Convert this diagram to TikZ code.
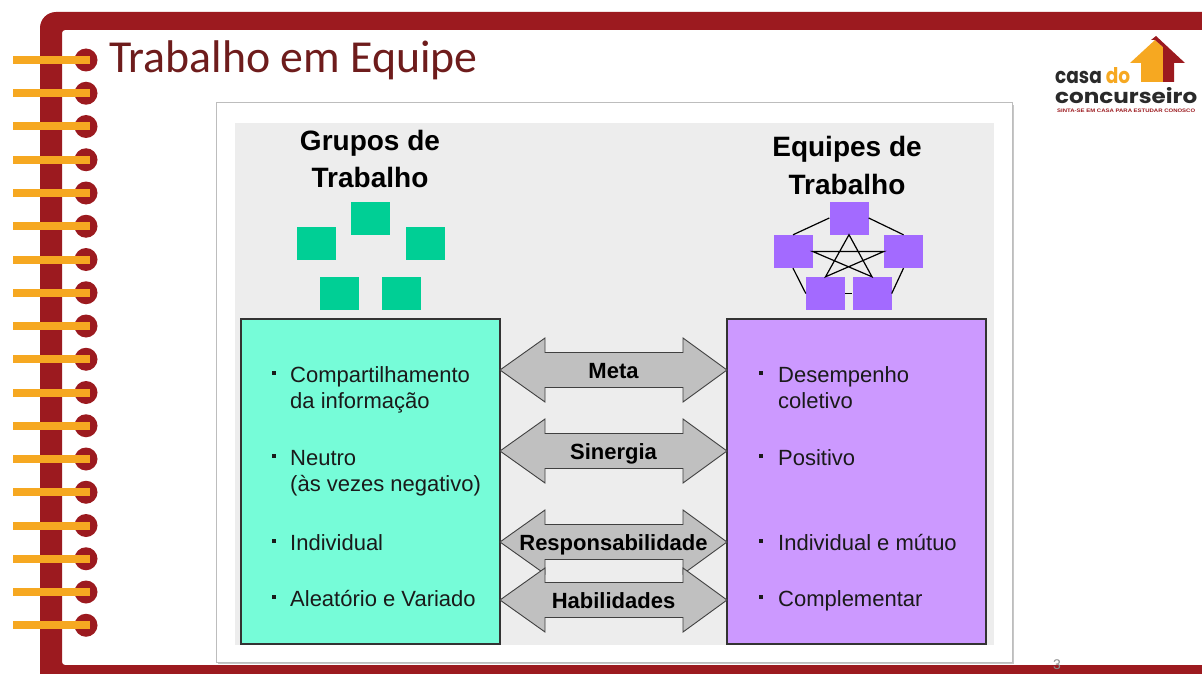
\documentclass[tikz,border=0pt]{standalone}
\usepackage{fontspec}
\setmainfont{Liberation Sans}
\newfontfamily\titlefont{Carlito}
\newfontfamily\logofont{Poppins}
\usepackage{graphicx}

\definecolor{framered}{HTML}{9C1A1F}
\definecolor{ringorange}{HTML}{F6A821}
\definecolor{titlered}{HTML}{6E1C1C}
\definecolor{logogray}{HTML}{2A2A2A}
\definecolor{bggray}{HTML}{EDEDED}
\definecolor{framegray}{HTML}{BDBDBD}
\definecolor{groupfill}{HTML}{76FCD8}
\definecolor{teamfill}{HTML}{CC99FF}
\definecolor{groupsq}{HTML}{00CF95}
\definecolor{teamsq}{HTML}{A36AFF}
\definecolor{arrowfill}{HTML}{C0C0C0}
\definecolor{inkgray}{HTML}{1A1A1A}

% one double-headed link between the two columns: name, centre y, label
\newcommand{\linkarrow}[3]{%
  \filldraw[arrowbody] (500,#2) -- (545,{#2-32}) -- (545,{#2-17.5})
    -- (683,{#2-17.5}) -- (683,{#2-32}) -- (727,#2) -- (683,{#2+32})
    -- (683,{#2+17.5}) -- (545,{#2+17.5}) -- (545,{#2+32}) -- cycle;
  \node[arrowlabel] (#1) at (613.5,{#2+8}) {#3};
}

\begin{document}
\begin{tikzpicture}[x=1pt,y=-1pt,
  heading/.style={anchor=base, inner sep=0pt, font=\bfseries\fontsize{28}{34}\selectfont},
  groupsquare/.style={fill=groupsq, minimum width=39pt, minimum height=33pt, inner sep=0pt},
  teamsquare/.style={fill=teamsq, minimum width=39pt, minimum height=33pt, inner sep=0pt},
  netline/.style={draw=black, line width=1.2pt},
  bigbox/.style={draw=black!80, line width=1.5pt, anchor=north west, minimum width=259pt, minimum height=325pt, inner sep=0pt},
  item/.style={anchor=base west, inner sep=0pt, text=inkgray, align=left, font=\fontsize{22}{26.5}\selectfont},
  bulletmark/.style={fill=inkgray},
  arrowbody/.style={fill=arrowfill, draw=black!75, line width=0.9pt},
  arrowlabel/.style={anchor=base, inner sep=0pt, font=\bfseries\fontsize{22}{26}\selectfont},
]
\useasboundingbox (0,0) rectangle (1202,674);
\fill[white] (0,0) rectangle (1202,674);

% notebook frame
\fill[framered, even odd rule]
  [rounded corners=16pt] (40,12) rectangle (1240,700)
  [rounded corners=3pt] (62,30) rectangle (1240,665);

% spiral binding
\foreach \i in {0,...,17} {
  \pgfmathsetmacro\yy{60+33.25*\i}
  \fill[framered] (86,\yy) circle[radius=11.5pt];
  \fill[ringorange] (13,{\yy-4}) rectangle (90,{\yy+4});
}

% title
\node[anchor=base west, inner sep=0pt, text=titlered, font=\titlefont\fontsize{45.8}{52}\selectfont] (title) at (109,73) {Trabalho em Equipe};

% logo
\fill[ringorange] (1130,63) -- (1155,40) -- (1163,47) -- (1163,82) -- (1141,82) -- (1141,63) -- cycle;
\fill[framered] (1151,40) -- (1156,36) -- (1185,63) -- (1174,63) -- (1174,82) -- (1163,82) -- (1163,47) -- (1155,40) -- cycle;
\node[anchor=base west, inner sep=0pt] (logotop) at (1055,84)
  {\logofont\bfseries\resizebox{75pt}{16pt}{\textcolor{logogray}{casa} \textcolor{ringorange}{do}}};
\node[anchor=base west, inner sep=0pt] (logomain) at (1055,103.5)
  {\logofont\bfseries\resizebox{142pt}{16pt}{\textcolor{logogray}{concurseiro}}};
\node[anchor=base west, inner sep=0pt, text=framered] (logotag) at (1057,113)
  {\resizebox{138pt}{3.5pt}{\bfseries SINTA-SE EM CASA PARA ESTUDAR CONOSCO}};

% picture frame with shadow
\fill[black!22] (218,105) rectangle (1014,664);
\filldraw[fill=white, draw=framegray, line width=1pt] (216,103) rectangle (1012,662);
\fill[bggray] (235,123) rectangle (994,645);

% column headings
\node[heading] (grouphead1) at (370,150) {Grupos de};
\node[heading] (grouphead2) at (370,187) {Trabalho};
\node[heading] (teamhead1) at (847,157) {Equipes de};
\node[heading] (teamhead2) at (847,194) {Trabalho};

% scattered group members
\node[groupsquare] (g1) at (370.5,218.5) {};
\node[groupsquare] (g2) at (316,243.5) {};
\node[groupsquare] (g3) at (425,243.5) {};
\node[groupsquare] (g4) at (339.5,293.5) {};
\node[groupsquare] (g5) at (401.5,293.5) {};

% connected team members: every member linked to every other
\node[teamsquare] (t1) at (849,218) {};
\node[teamsquare] (t2) at (793,251.5) {};
\node[teamsquare] (t3) at (903.5,251.5) {};
\node[teamsquare] (t4) at (825.5,293.5) {};
\node[teamsquare] (t5) at (872,293.5) {};
\draw[netline] (t1.west) -- (t2.north);
\draw[netline] (t1.east) -- (t3.north);
\draw[netline] (t2.south) -- (t4.west);
\draw[netline] (t3.south) -- (t5.east);
\draw[netline] (t4.east) -- (t5.west);
\draw[netline] (t1.south) -- (t4.north) -- (t3.west) -- (t2.east) -- (t5.north) -- cycle;

% the two columns
\node[bigbox, fill=groupfill] (groupbox) at (240,318) {};
\node[bigbox, fill=teamfill] (teambox) at (726,318) {};

% links between columns
\linkarrow{meta}{370}{Meta}
\linkarrow{sinergia}{451}{Sinergia}
\linkarrow{resp}{542}{Responsabilidade}
\linkarrow{hab}{600}{Habilidades}

% group traits
\foreach \by in {382,465,550,606} {\fill[bulletmark] (272,{\by-11}) rectangle (276,{\by-7});}
\node[item] (gi1) at (290,408.5) {Compartilhamento\\da informação};
\node[item] (gi2) at (290,491.5) {Neutro\\(às vezes negativo)};
\node[item] (gi3) at (290,550) {Individual};
\node[item] (gi4) at (290,606) {Aleatório e Variado};

% team traits
\foreach \by in {382,465,550,606} {\fill[bulletmark] (759,{\by-11}) rectangle (763,{\by-7});}
\node[item] (ti1) at (778,408.5) {Desempenho\\coletivo};
\node[item] (ti2) at (778,465) {Positivo};
\node[item] (ti3) at (778,550) {Individual e mútuo};
\node[item] (ti4) at (778,606) {Complementar};

% page number
\node[text=black!45, inner sep=0pt, font=\fontsize{14}{14}\selectfont] (pagenum) at (1057,665) {3};
\end{tikzpicture}
\end{document}
